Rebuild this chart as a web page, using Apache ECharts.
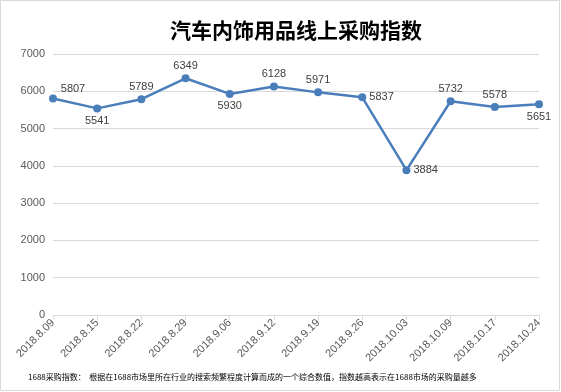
<!DOCTYPE html>
<html><head><meta charset="utf-8">
<script src="https://cdn.jsdelivr.net/npm/echarts@6/dist/echarts.min.js"></script>
<style>html,body{margin:0;padding:0;background:#fff}#c{width:561px;height:392px}</style>
</head><body><div id="c"></div>
<script>
var categories = ['2018.8.09','2018.8.15','2018.8.22','2018.8.29','2018.9.06','2018.9.12','2018.9.19','2018.9.26','2018.10.03','2018.10.09','2018.10.17','2018.10.24'];
var values = [5807,5541,5789,6349,5930,6128,5971,5837,3884,5732,5578,5651];
var labelPositions = ['topRight','bottom','top','top','bottom','top','top','right','right','top','top','bottom'];
var titleText = '汽车内饰用品线上采购指数';
var noteText = '1688采购指数：  根据在1688市场里所在行业的搜索频繁程度计算而成的一个综合数值，指数越高表示在1688市场的采购量越多';

var data = values.map(function(v,i){
  var p = labelPositions[i];
  var lab = {position: p === 'topRight' ? 'top' : p};
  if (p === 'topRight') lab.offset = [20, 3];
  return {value: v, label: lab};
});

var chart = echarts.init(document.getElementById('c'), null, {renderer:'canvas'});
chart.setOption({
  animation:false,
  backgroundColor:'#fff',
  title:{text:titleText,left:165,top:15,textStyle:{fontFamily:'Noto Sans CJK SC',fontWeight:'bold',fontSize:21,color:'#000'}},
  grid:{left:53,right:22,top:54,bottom:77},
  xAxis:{type:'category',data:categories,boundaryGap:false,
    axisLine:{lineStyle:{color:'#d9d9d9'}},
    axisTick:{show:true,alignWithLabel:true,lineStyle:{color:'#d9d9d9'}},
    axisLabel:{rotate:45,fontSize:11,color:'#595959',fontFamily:'Liberation Sans',margin:6,interval:0}},
  yAxis:{type:'value',min:0,max:7000,interval:1000,
    axisLine:{show:false},axisTick:{show:false},
    splitLine:{lineStyle:{color:'#d9d9d9'}},
    axisLabel:{fontSize:11,color:'#595959',fontFamily:'Liberation Sans',formatter:function(v){return String(v);}}},
  series:[{type:'line',data:data,symbol:'circle',symbolSize:8,
    lineStyle:{color:'#4a7ebb',width:2.5},itemStyle:{color:'#4a7ebb'},
    label:{show:true,distance:3,fontSize:11,color:'#404040',fontFamily:'Liberation Sans'}}],
  graphic:[
    {type:'rect',shape:{x:0.5,y:0.5,width:559,height:390},style:{fill:null,stroke:'#d9d9d9',lineWidth:1},silent:true},
    {type:'text',left:28,top:373,style:{text:noteText,fontSize:8,fill:'#000',fontFamily:'Noto Sans CJK SC'}}
  ]
});
</script></body></html>
